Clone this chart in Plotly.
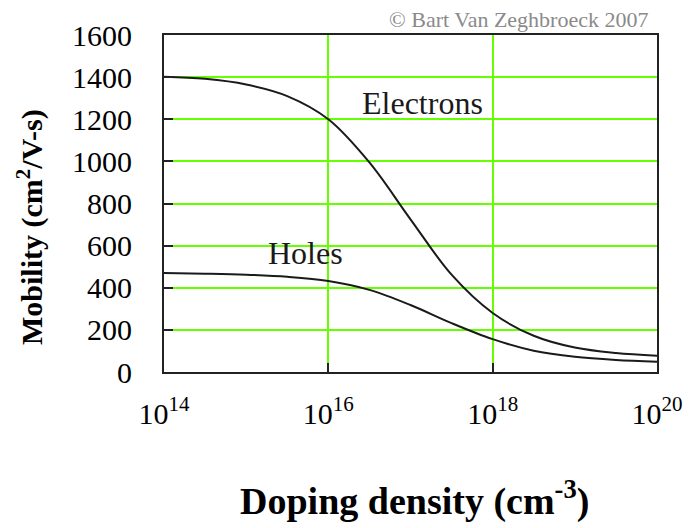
import plotly.graph_objects as go

doping = [1e14, 3.16e14, 1e15, 3.16e15, 1e16, 3.16e16, 1e17, 3.16e17,
          1e18, 3.16e18, 1e19, 3.16e19, 1e20]
electrons = [1402, 1392, 1365, 1310, 1200, 995, 725, 462, 280, 172, 116, 90, 77]
holes = [470, 467, 462, 452, 432, 390, 318, 232, 156, 101, 72, 57, 49]

x_tickvals = [1e14, 1e16, 1e18, 1e20]
x_ticktext = ["10<sup>14</sup>", "10<sup>16</sup>", "10<sup>18</sup>", "10<sup>20</sup>"]
y_tickvals = [0, 200, 400, 600, 800, 1000, 1200, 1400, 1600]

SERIF = "Liberation Serif, Times New Roman, serif"
GRID = "#66ff00"

fig = go.Figure()
fig.add_trace(go.Scatter(x=doping, y=electrons, mode="lines", name="Electrons",
                         line=dict(color="#1a1a1a", width=2, shape="spline")))
fig.add_trace(go.Scatter(x=doping, y=holes, mode="lines", name="Holes",
                         line=dict(color="#1a1a1a", width=2, shape="spline")))

fig.update_layout(
    width=684, height=520,
    margin=dict(l=156, r=35, t=27, b=156),
    paper_bgcolor="white", plot_bgcolor="white",
    showlegend=False,
    font=dict(family=SERIF, color="black", size=30),
    xaxis=dict(type="log", range=[14, 20], tickvals=x_tickvals, ticktext=x_ticktext,
               showgrid=True, gridcolor=GRID, gridwidth=1.5,
               ticks="inside", ticklen=9, tickwidth=2, tickcolor="#222",
               showline=True, linecolor="#222", linewidth=2, mirror=True,
               ticklabelstandoff=14, tickfont=dict(size=30, family=SERIF),
               zeroline=False, automargin=False),
    yaxis=dict(range=[0, 1600], tickvals=y_tickvals,
               showgrid=True, gridcolor=GRID, gridwidth=1.5,
               ticks="inside", ticklen=9, tickwidth=2, tickcolor="#222",
               showline=True, linecolor="#222", linewidth=2, mirror=True,
               ticklabelstandoff=24, tickfont=dict(size=30, family=SERIF),
               zeroline=False, automargin=False),
    annotations=[
        dict(text="Electrons", x=17.14, y=1277, xref="x", yref="y", showarrow=False,
             font=dict(size=32, family=SERIF, color="#1a1a1a")),
        dict(text="Holes", x=15.72, y=563, xref="x", yref="y", showarrow=False,
             font=dict(size=32, family=SERIF, color="#1a1a1a")),
        dict(text="© Bart Van Zeghbroeck 2007", x=0.986, y=1.045, xref="paper", yref="paper",
             xanchor="right", yanchor="middle", showarrow=False,
             font=dict(size=22, family=SERIF, color="#8a8a8a")),
        dict(text="<b>Mobility (cm<sup>2</sup>/V-s)</b>", x=-0.272, y=0.43,
             xref="paper", yref="paper", textangle=-90, showarrow=False,
             xanchor="center", yanchor="middle",
             font=dict(size=30, family=SERIF, color="black")),
        dict(text="<b>Doping density (cm<sup>-3</sup>)</b>", x=0.508, y=-0.374,
             xref="paper", yref="paper", showarrow=False,
             xanchor="center", yanchor="middle",
             font=dict(size=38, family=SERIF, color="black")),
    ],
)

fig.write_html("out.html")
